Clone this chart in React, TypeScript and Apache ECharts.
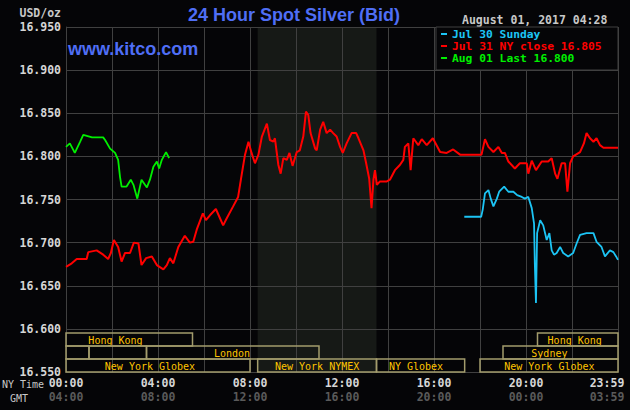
import React, { useEffect, useRef } from "react";
import * as echarts from "echarts";

// ---- texts ----
const chartTitle = "24 Hour Spot Silver (Bid)";
const siteText = "www.kitco.com";
const stampText = "August 01, 2017 04:28";
const unitText = "USD/oz";
const nyTimeText = "NY Time";
const gmtText = "GMT";
const seriesNames = ["Jul 30 Sunday", "Jul 31 NY close 16.805", "Aug 01 Last 16.800"];
const seriesColors = ["#1cc4f4", "#ff0000", "#00f000"];

// ---- axes ----
const yMin = 16.55;
const yMax = 16.95;
const yStep = 0.05;
const xMin = 0;
const xMax = 1440; // minutes, NY time
const xStep = 120;
const labelStep = 240;
const gmtOffset = 240;

// ---- series: [minute of NY day, price] ----
const sundayPts: [number, number][] = [
  [1039, 16.73], [1083, 16.73], [1087, 16.738], [1093, 16.757], [1102, 16.761], [1108, 16.751],
  [1115, 16.742], [1124, 16.751], [1130, 16.759], [1143, 16.765], [1154, 16.759], [1167, 16.759],
  [1177, 16.755], [1189, 16.753], [1197, 16.751], [1206, 16.753], [1215, 16.74], [1221, 16.722],
  [1223, 16.676], [1226, 16.63], [1229, 16.711], [1237, 16.726], [1245, 16.72], [1254, 16.703],
  [1261, 16.711], [1267, 16.691], [1273, 16.686], [1280, 16.688], [1289, 16.695], [1297, 16.688],
  [1310, 16.684], [1323, 16.688], [1332, 16.699], [1341, 16.709], [1358, 16.711], [1376, 16.711],
  [1384, 16.701], [1397, 16.695], [1406, 16.684], [1419, 16.691], [1428, 16.689], [1435, 16.684],
  [1440, 16.68],
];

const julyPts: [number, number][] = [
  [0, 16.672], [15, 16.676], [28, 16.681], [54, 16.681], [58, 16.689], [80, 16.691], [97, 16.686],
  [110, 16.681], [117, 16.688], [125, 16.703], [136, 16.695], [145, 16.678], [154, 16.688],
  [167, 16.688], [177, 16.7], [189, 16.699], [197, 16.674], [209, 16.682], [224, 16.684],
  [237, 16.674], [254, 16.669], [263, 16.674], [271, 16.682], [280, 16.676], [293, 16.695],
  [310, 16.708], [323, 16.7], [332, 16.701], [341, 16.715], [357, 16.734], [365, 16.726],
  [376, 16.732], [391, 16.739], [402, 16.728], [410, 16.72], [419, 16.728], [436, 16.742],
  [449, 16.753], [458, 16.778], [467, 16.802], [476, 16.817], [484, 16.804], [493, 16.792],
  [502, 16.802], [511, 16.823], [524, 16.838], [532, 16.819], [541, 16.817], [545, 16.821],
  [554, 16.79], [560, 16.78], [567, 16.798], [576, 16.796], [583, 16.804], [591, 16.789],
  [602, 16.805], [610, 16.807], [619, 16.823], [626, 16.852], [632, 16.848], [638, 16.827],
  [650, 16.809], [654, 16.807], [663, 16.831], [671, 16.84], [680, 16.827], [689, 16.831],
  [697, 16.827], [706, 16.823], [715, 16.811], [722, 16.804], [732, 16.815], [745, 16.827],
  [757, 16.827], [763, 16.821], [776, 16.807], [783, 16.792], [791, 16.774], [797, 16.74],
  [802, 16.773], [806, 16.784], [811, 16.767], [819, 16.771], [837, 16.771], [845, 16.773],
  [858, 16.784], [871, 16.79], [880, 16.796], [884, 16.811], [893, 16.815], [899, 16.784],
  [906, 16.821], [919, 16.813], [928, 16.82], [941, 16.813], [957, 16.821], [976, 16.805],
  [993, 16.804], [1010, 16.808], [1028, 16.802], [1084, 16.802], [1093, 16.82], [1102, 16.811],
  [1115, 16.805], [1128, 16.811], [1137, 16.804], [1145, 16.804], [1154, 16.794], [1171, 16.786],
  [1184, 16.792], [1202, 16.792], [1206, 16.78], [1215, 16.795], [1226, 16.784], [1241, 16.794],
  [1258, 16.794], [1267, 16.798], [1276, 16.78], [1282, 16.774], [1293, 16.792], [1302, 16.792],
  [1308, 16.759], [1315, 16.792], [1323, 16.8], [1341, 16.805], [1351, 16.815], [1358, 16.827],
  [1367, 16.821], [1376, 16.817], [1384, 16.821], [1393, 16.813], [1402, 16.81], [1440, 16.81],
];

const augustPts: [number, number][] = [
  [0, 16.811], [10, 16.815], [23, 16.804], [37, 16.817], [45, 16.825], [68, 16.822], [97, 16.822],
  [102, 16.819], [115, 16.809], [128, 16.804], [136, 16.796], [141, 16.776], [145, 16.765],
  [158, 16.765], [169, 16.773], [176, 16.767], [186, 16.751], [197, 16.773], [211, 16.764],
  [219, 16.773], [228, 16.788], [237, 16.794], [243, 16.786], [250, 16.796], [261, 16.805],
  [269, 16.798],
];

// ---- shaded NYMEX hours [start, end] ----
const nymexHours: [number, number][] = [[500, 810]];

// ---- market sessions: [start, end, row, label at] ----
const sessionSpans: [number, number, number, number][] = [
  [0, 330, 0, 129],
  [1230, 1440, 0, 1327],
  [0, 60, 1, 30],
  [60, 210, 1, 135],
  [210, 660, 1, 433],
  [1140, 1440, 1, 1261],
  [0, 480, 2, 219],
  [500, 810, 2, 655],
  [810, 1040, 2, 913],
  [1080, 1440, 2, 1261],
];
const sessionNames = [
  "Hong Kong", "Hong Kong", "", "", "London", "Sydney",
  "New York Globex", "New York NYMEX", "NY Globex", "New York Globex",
];

const MONO = '"DejaVu Sans Mono", "Liberation Mono", monospace';
const SANS = '"Liberation Sans", Arial, sans-serif';

const pad2 = (n: number) => (n < 10 ? "0" + n : "" + n);
const hhmm = (m: number) => {
  const t = Math.round(m);
  return pad2(Math.floor(t / 60) % 24) + ":" + pad2(t % 60);
};

export default function App() {
  const ref = useRef<HTMLDivElement>(null);

  useEffect(() => {
    if (!ref.current) return;
    document.body.style.margin = "0";
    document.body.style.background = "#050507";
    const chart = echarts.init(ref.current, null, { renderer: "svg" });

    const labelFont = { fontFamily: MONO, fontSize: 11.5, fontWeight: "bold" as const };

    chart.setOption({
      animation: false,
      backgroundColor: "#050507",
      grid: { left: 66, right: 12, top: 27, bottom: 38, containLabel: false, outerBoundsMode: "none" },
      legend: {
        orient: "vertical",
        left: 441,
        top: 28,
        padding: 0,
        itemWidth: 6,
        itemHeight: 2,
        itemGap: 0,
        icon: "rect",
        selectedMode: false,
        z: 10,
        textStyle: { ...labelFont, fontSize: 11.3, lineHeight: 12 },
        data: seriesNames.map((n, i) => ({ name: n, textStyle: { color: seriesColors[i] } })),
      },
      xAxis: {
        type: "value",
        min: xMin,
        max: xMax,
        interval: xStep,
        axisLine: { show: true, lineStyle: { color: "#404040", width: 1 } },
        axisTick: { show: false },
        splitLine: { show: true, lineStyle: { color: "#404040", width: 1 } },
        axisLabel: {
          margin: 4,
          formatter: (v: number) => {
            const m = Math.round(v);
            if (m % labelStep !== 0) return "";
            if (m >= xMax) return `{a2|${hhmm(xMax - 1)}}\n{b2|${hhmm(xMax - 1 + gmtOffset)}}`;
            return `{a|${hhmm(m)}}\n{b|${hhmm(m + gmtOffset)}}`;
          },
          rich: {
            a: { ...labelFont, color: "#d6d6d6", lineHeight: 14 },
            b: { ...labelFont, color: "#5a5a5a", lineHeight: 14 },
            a2: { ...labelFont, color: "#d6d6d6", lineHeight: 14, padding: [0, 22, 0, 0] },
            b2: { ...labelFont, color: "#5a5a5a", lineHeight: 14, padding: [0, 22, 0, 0] },
          },
        },
      },
      yAxis: {
        type: "value",
        min: yMin,
        max: yMax,
        interval: yStep,
        axisLine: { show: true, lineStyle: { color: "#404040", width: 1 } },
        axisTick: { show: false },
        splitLine: { show: true, lineStyle: { color: "#404040", width: 1 } },
        axisLabel: {
          ...labelFont,
          color: "#d6d6d6",
          margin: 5,
          formatter: (v: number) => v.toFixed(3),
        },
      },
      graphic: [
        {
          type: "rect",
          z: 5,
          shape: { x: 436, y: 27, width: 182, height: 43 },
          style: { fill: "#050507", stroke: "#404040", lineWidth: 1 },
        },
        {
          type: "text",
          x: 294,
          y: 15,
          style: {
            text: chartTitle,
            fill: "#4f6ef5",
            font: `bold 18px ${SANS}`,
            align: "center",
            verticalAlign: "middle",
          },
        },
        {
          type: "text",
          x: 68,
          y: 49,
          z: 6,
          style: {
            text: siteText,
            fill: "#4f6ef5",
            font: `bold 18px ${SANS}`,
            align: "left",
            verticalAlign: "middle",
          },
        },
        {
          type: "text",
          x: 462,
          y: 20,
          style: {
            text: stampText,
            fill: "#c8c8c8",
            font: `bold 11.5px ${MONO}`,
            align: "left",
            verticalAlign: "middle",
          },
        },
        {
          type: "text",
          x: 61,
          y: 13,
          style: {
            text: unitText,
            fill: "#c8c8c8",
            font: `bold 11.5px ${MONO}`,
            align: "right",
            verticalAlign: "middle",
          },
        },
        {
          type: "text",
          x: 2,
          y: 384,
          style: {
            text: nyTimeText,
            fill: "#c8c8c8",
            font: `10px ${MONO}`,
            align: "left",
            verticalAlign: "middle",
          },
        },
        {
          type: "text",
          x: 10,
          y: 398,
          style: {
            text: gmtText,
            fill: "#c8c8c8",
            font: `10px ${MONO}`,
            align: "left",
            verticalAlign: "middle",
          },
        },
      ],
      series: [
        {
          name: "NYMEX shade",
          type: "custom",
          z: -1,
          silent: true,
          data: nymexHours,
          renderItem: (params: any, api: any) => {
            const a = api.coord([api.value(0), yMax]);
            const b = api.coord([api.value(1), yMin]);
            return {
              type: "rect",
              shape: { x: a[0], y: a[1], width: b[0] - a[0], height: b[1] - a[1] },
              style: { fill: "#161916" },
            };
          },
        },
        {
          name: seriesNames[0],
          type: "line",
          data: sundayPts,
          symbol: "none",
          color: seriesColors[0],
          lineStyle: { color: seriesColors[0], width: 1.8 },
          z: 3,
        },
        {
          name: seriesNames[1],
          type: "line",
          data: julyPts,
          symbol: "none",
          color: seriesColors[1],
          lineStyle: { color: seriesColors[1], width: 2 },
          z: 3,
        },
        {
          name: seriesNames[2],
          type: "line",
          data: augustPts,
          symbol: "none",
          color: seriesColors[2],
          lineStyle: { color: seriesColors[2], width: 1.8 },
          z: 3,
        },
        {
          name: "Sessions",
          type: "custom",
          z: 4,
          silent: true,
          encode: { x: [0, 1] },
          data: sessionSpans,
          renderItem: (params: any, api: any) => {
            const p0 = api.coord([api.value(0), yMin]);
            const p1 = api.coord([api.value(1), yMin]);
            const pl = api.coord([api.value(3), yMin]);
            const row = api.value(2);
            const rowH = 13;
            const top = p0[1] - (3 - row) * rowH;
            return {
              type: "group",
              children: [
                {
                  type: "rect",
                  shape: { x: p0[0], y: top, width: p1[0] - p0[0], height: rowH },
                  style: { fill: "rgba(0,0,0,0)", stroke: "#a39c6c", lineWidth: 1.5 },
                },
                {
                  type: "text",
                  x: pl[0],
                  y: top + rowH / 2 + 0.5,
                  style: {
                    text: sessionNames[params.dataIndex],
                    fill: "#ffc400",
                    font: `10px ${MONO}`,
                    align: "center",
                    verticalAlign: "middle",
                  },
                },
              ],
            };
          },
        },
      ],
    });

    return () => chart.dispose();
  }, []);

  return (
    <div
      ref={ref}
      style={{ position: "absolute", left: 0, top: 0, width: 630, height: 410, background: "#050507" }}
    />
  );
}
